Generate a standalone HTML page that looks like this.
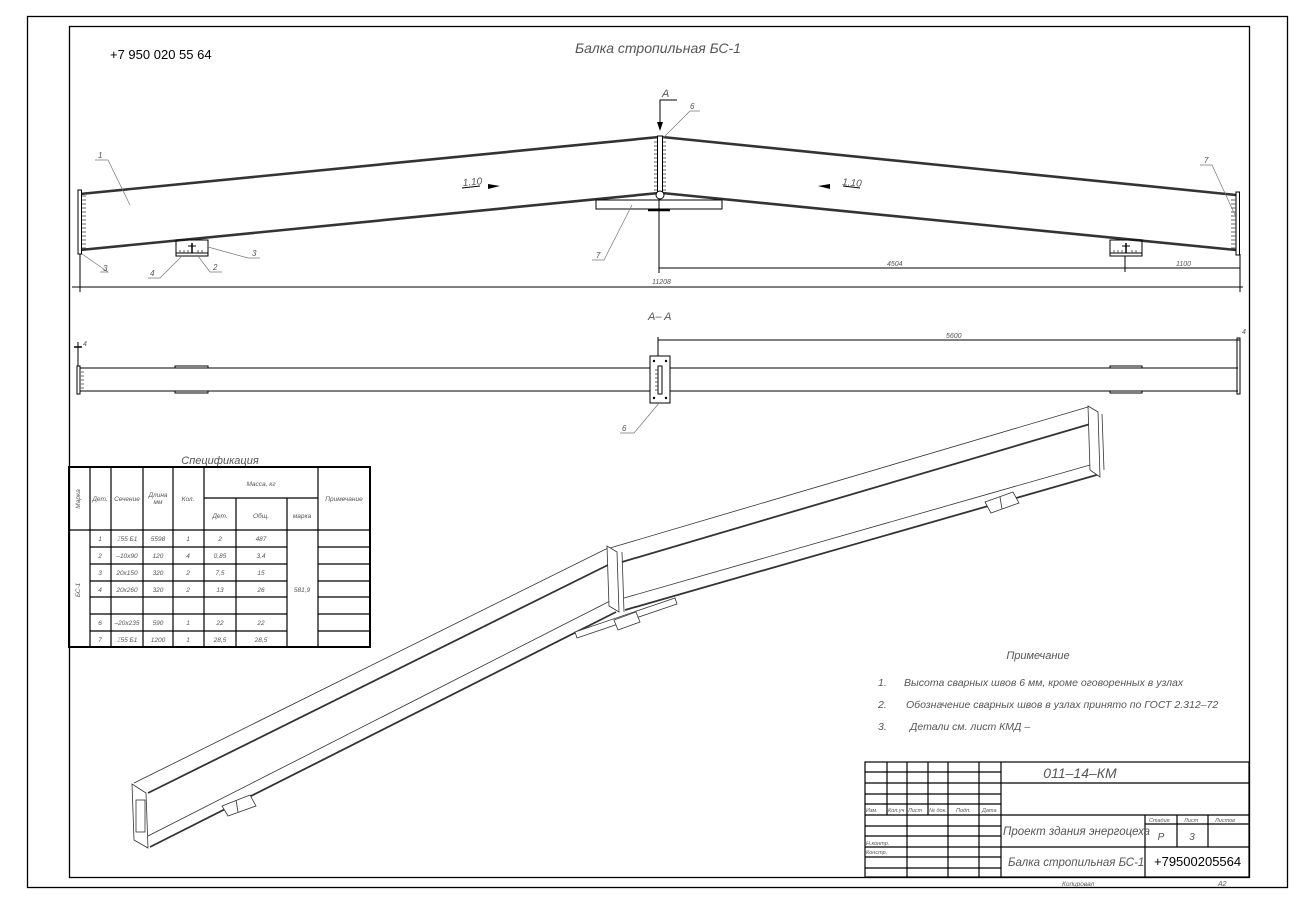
<!DOCTYPE html>
<html><head><meta charset="utf-8"><style>
html,body{margin:0;padding:0;background:#fff;}
svg{display:block;}
text{font-family:"Liberation Sans","Noto Sans CJK SC",sans-serif;font-style:italic;fill:#555;}
.b{font-style:normal;fill:#000;}
</style></head><body>
<svg width="1306" height="914" viewBox="0 0 1306 914" xmlns="http://www.w3.org/2000/svg">
<rect width="1306" height="914" fill="#fff"/>
<!-- frames -->
<rect x="27.5" y="16.5" width="1260" height="871" fill="none" stroke="#000" stroke-width="1.3"/>
<rect x="69.5" y="26.5" width="1180" height="851" fill="none" stroke="#000" stroke-width="1.3"/>

<text x="110" y="59" font-size="13" class="b">+7 950 020 55 64</text>
<text x="658" y="53" font-size="14" text-anchor="middle">Балка стропильная БС-1</text>

<!-- ELEVATION -->
<g stroke="#333" fill="none">
<line x1="80" y1="194" x2="659" y2="137" stroke-width="2.6"/>
<line x1="80" y1="250" x2="659" y2="193" stroke-width="2.6"/>
<line x1="662" y1="137" x2="1236" y2="195" stroke-width="2.6"/>
<line x1="662" y1="193" x2="1236" y2="250" stroke-width="2.6"/>
</g>
<g stroke="#000" fill="none" stroke-width="1">
<rect x="78" y="190" width="3.5" height="64" fill="#fff"/>
<rect x="1236" y="192" width="3.5" height="63" fill="#fff"/>
<rect x="657.5" y="136" width="5" height="60" fill="#fff"/>
<rect x="596" y="200" width="126" height="9"/>
<line x1="648" y1="210" x2="670" y2="210" stroke-width="2.5"/>
<line x1="659" y1="196" x2="659" y2="273"/>
<line x1="659" y1="268" x2="1240" y2="268"/>
<line x1="1240" y1="254" x2="1240" y2="292"/>
<line x1="1125" y1="256" x2="1125" y2="272"/>
<line x1="72" y1="287" x2="1243" y2="287"/>
<line x1="80" y1="254" x2="80" y2="292"/>
<rect x="176" y="240" width="32" height="16"/>
<line x1="176" y1="253" x2="208" y2="253"/>
<rect x="1110" y="240" width="32" height="16"/>
<line x1="1110" y1="253" x2="1142" y2="253"/>
<line x1="192" y1="243" x2="192" y2="253" stroke-width="1.5"/>
<line x1="188" y1="246" x2="196" y2="246"/>
<line x1="1126" y1="243" x2="1126" y2="253" stroke-width="1.5"/>
<line x1="1122" y1="246" x2="1130" y2="246"/>
<!-- A section mark -->
<polyline points="677,100 660,100 660,128"/>
</g>
<polygon points="657,122 663,122 660,131" fill="#000"/>
<!-- weld ticks -->
<g stroke="#333" stroke-width="0.8">
<path d="M82,196h4M82,200h4M82,204h4M82,208h4M82,212h4M82,216h4M82,220h4M82,224h4M82,228h4M82,232h4M82,236h4M82,240h4M82,244h4M82,248h4"/>
<path d="M1231,200h5M1231,204h5M1231,208h5M1231,212h5M1231,216h5M1231,220h5M1231,224h5M1231,228h5M1231,232h5M1231,236h5M1231,240h5M1231,244h5M1231,248h5"/>
<path d="M654,142h3M654,146h3M654,150h3M654,154h3M654,158h3M654,162h3M654,166h3M654,170h3M654,174h3M654,178h3M654,182h3M654,186h3M654,190h3M663,142h3M663,146h3M663,150h3M663,154h3M663,158h3M663,162h3M663,166h3M663,170h3M663,174h3M663,178h3M663,182h3M663,186h3M663,190h3"/>
<path d="M180,250v3M184,250v3M188,250v3M198,250v3M202,250v3M1114,250v3M1118,250v3M1122,250v3M1132,250v3M1136,250v3"/>
</g>
<circle cx="660" cy="195" r="4" fill="#fff" stroke="#000"/>
<!-- arrows 1.10 -->
<g stroke="#000" stroke-width="1">
<line x1="462" y1="188" x2="480" y2="186"/>
<line x1="843" y1="186" x2="860" y2="188"/>
</g>
<polygon points="488,184 500,186 488,189" fill="#000"/>
<polygon points="830,184 818,186 830,189" fill="#000"/>
<text x="463" y="186" font-size="10" transform="rotate(-5 463 186)">1.10</text>
<text x="842" y="185" font-size="10" transform="rotate(5 842 185)">1.10</text>
<!-- leaders -->
<g stroke="#777" stroke-width="0.7" fill="none">
<polyline points="95,160 108,160 130,205"/>
<polyline points="100,272 108,272 82,254"/>
<polyline points="148,278 160,278 182,256"/>
<polyline points="222,272 210,272 198,256"/>
<polyline points="260,258 248,258 208,247"/>
<polyline points="592,260 604,260 632,205"/>
<polyline points="700,111 690,111 663,138"/>
<polyline points="1200,165 1212,165 1235,215"/>
</g>
<g font-size="8">
<text x="98" y="158">1</text><text x="103" y="271">3</text><text x="150" y="276">4</text>
<text x="213" y="270">2</text><text x="252" y="256">3</text><text x="596" y="258">7</text>
<text x="690" y="109">6</text><text x="1204" y="163">7</text>
<text x="887" y="266" font-size="7">4504</text><text x="1176" y="266" font-size="7">1100</text>
<text x="652" y="284" font-size="7">11208</text>
</g>
<text x="662" y="97" font-size="11">A</text>

<!-- SECTION A-A -->
<text x="648" y="320" font-size="11">A– A</text>
<g stroke="#000" stroke-width="1" fill="none">
<line x1="80" y1="368" x2="1238" y2="368"/>
<line x1="80" y1="391" x2="1238" y2="391"/>
<rect x="77" y="366" width="3" height="28"/>
<rect x="1237" y="338" width="3" height="56"/>
<line x1="78" y1="342" x2="78" y2="366"/>
<line x1="74" y1="347" x2="82" y2="347" stroke-width="1.5"/>
<line x1="658" y1="340" x2="1240" y2="340"/>
<line x1="658" y1="337" x2="658" y2="356"/>
<rect x="650" y="356" width="20" height="47" fill="#fff"/>
<rect x="658" y="366" width="4" height="28" fill="#fff"/>
<rect x="175" y="366" width="33" height="2"/><rect x="175" y="391" width="33" height="2"/>
<rect x="1110" y="366" width="32" height="2"/><rect x="1110" y="391" width="32" height="2"/>
</g>
<g fill="#000"><circle cx="654" cy="361" r="1.2"/><circle cx="666" cy="361" r="1.2"/><circle cx="654" cy="398" r="1.2"/><circle cx="666" cy="398" r="1.2"/></g>
<g stroke="#333" stroke-width="0.8"><path d="M81,372h3M81,376h3M81,380h3M81,384h3M81,388h3M655,370h3M655,374h3M655,378h3M655,382h3M655,386h3M655,390h3"/></g>
<polyline points="620,433 634,433 660,402" stroke="#777" stroke-width="0.7" fill="none"/>
<text x="622" y="431" font-size="8">6</text>
<text x="946" y="338" font-size="7">5600</text>
<text x="83" y="346" font-size="7">4</text><text x="1242" y="334" font-size="7">4</text>

<!-- 3D beam -->
<g stroke="#333" fill="none" stroke-width="0.8">
<line x1="134" y1="783" x2="608" y2="548"/>
<line x1="148" y1="793" x2="614" y2="562" stroke-width="1.8"/>
<line x1="148" y1="836" x2="612" y2="600"/>
<line x1="150" y1="847" x2="616" y2="612" stroke-width="1.8"/>
<line x1="610" y1="548" x2="1088" y2="407"/>
<line x1="622" y1="562" x2="1097" y2="422" stroke-width="1.8"/>
<line x1="624" y1="598" x2="1097" y2="463"/>
<line x1="625" y1="610" x2="1100" y2="474" stroke-width="1.8"/>
<polygon points="132,784 146,793 148,848 134,840" fill="#fff"/>
<rect x="136" y="800" width="9" height="32"/>
<polygon points="607,546 617,552 619,612 609,606" fill="#fff"/>
<line x1="622" y1="552" x2="624" y2="612"/>
<polygon points="1088,406 1098,412 1100,477 1090,470" fill="#fff"/>
<line x1="1102" y1="414" x2="1104" y2="470"/>
<polygon points="575,632 675,598 677,604 577,638" fill="#fff"/>
<polygon points="614,620 636,612 640,622 618,630" fill="#fff"/>
<polygon points="222,806 250,795 256,806 228,816" fill="#fff"/>
<polygon points="985,502 1013,492 1019,503 991,513" fill="#fff"/>
<line x1="236" y1="800" x2="238" y2="812"/>
<line x1="1000" y1="497" x2="1002" y2="509"/>
</g>

<!-- SPECIFICATION -->
<text x="220" y="464" font-size="11" text-anchor="middle">Спецификация</text>
<g stroke="#000" fill="none">
<rect x="69" y="467" width="301" height="180" stroke-width="2"/>
<g stroke-width="1.2">
<path d="M90,467V647M111,467V647M143,467V647M173,467V647M204,467V647M236,498V647M287,498V647M318,467V647"/>
<path d="M204,498H318M69,530H370"/>
<path d="M90,547H287M90,564H287M90,581H287M90,597H287M90,614H287M90,631H287"/>
<path d="M318,547H370M318,564H370M318,581H370M318,597H370M318,614H370M318,631H370"/>
</g>
</g>
<g font-size="6.5" text-anchor="middle">
<text x="80" y="499" transform="rotate(-90 80 499)">Марка</text>
<text x="100" y="501">Дет.</text><text x="127" y="501">Сечение</text>
<text x="158" y="497">Длина</text><text x="158" y="504">мм</text>
<text x="188" y="501">Кол.</text><text x="261" y="486">Масса, кг</text>
<text x="220" y="518">Дет.</text><text x="261" y="518">Общ.</text><text x="302" y="518">марка</text>
<text x="344" y="501">Примечание</text>
<text x="80" y="590" transform="rotate(-90 80 590)">БС-1</text>
<text x="302" y="592">581,9</text>
</g>
<g font-size="6.5" text-anchor="middle">
<text x="100" y="541">1</text><text x="127" y="541">⌶55 Б1</text><text x="158" y="541">5598</text><text x="188" y="541">1</text><text x="220" y="541">2</text><text x="261" y="541">487</text>
<text x="100" y="558">2</text><text x="127" y="558">–10x90</text><text x="158" y="558">120</text><text x="188" y="558">4</text><text x="220" y="558">0,85</text><text x="261" y="558">3,4</text>
<text x="100" y="575">3</text><text x="127" y="575">20x150</text><text x="158" y="575">320</text><text x="188" y="575">2</text><text x="220" y="575">7,5</text><text x="261" y="575">15</text>
<text x="100" y="592">4</text><text x="127" y="592">20x260</text><text x="158" y="592">320</text><text x="188" y="592">2</text><text x="220" y="592">13</text><text x="261" y="592">26</text>
<text x="100" y="625">6</text><text x="127" y="625">–20x235</text><text x="158" y="625">590</text><text x="188" y="625">1</text><text x="220" y="625">22</text><text x="261" y="625">22</text>
<text x="100" y="642">7</text><text x="127" y="642">⌶55 Б1</text><text x="158" y="642">1200</text><text x="188" y="642">1</text><text x="220" y="642">28,5</text><text x="261" y="642">28,5</text>
</g>

<!-- NOTES -->
<text x="1038" y="659" font-size="11" text-anchor="middle">Примечание</text>
<g font-size="10.5">
<text x="878" y="686">1.</text><text x="904" y="686">Высота сварных швов 6 мм, кроме оговоренных в узлах</text>
<text x="878" y="708">2.</text><text x="906" y="708">Обозначение сварных швов в узлах принято по ГОСТ 2.312–72</text>
<text x="878" y="730">3.</text><text x="910" y="730">Детали см. лист КМД –</text>
</g>

<!-- TITLE BLOCK -->
<g stroke="#000" fill="none" stroke-width="1.2">
<rect x="865" y="762" width="384" height="115"/>
<path d="M887,762V815M928,762V815M907,762V877M948,762V877M979,762V877M1001,762V877"/>
<path d="M865,772H1001M865,783H1249M865,794H1001M865,804H1001M865,815H1249M865,826H1001M865,836H1001M865,847H1249M865,857H1001M865,868H1001"/>
<path d="M1145,815V847M1177,815V847M1208,815V847M1145,824H1249M1145,847V877"/>
</g>
<g font-size="5.5">
<text x="866" y="812">Изм.</text><text x="888" y="812">Кол.уч</text><text x="908" y="812">Лист</text><text x="929" y="812">№ док.</text><text x="956" y="812">Подп.</text><text x="982" y="812">Дата</text>
<text x="866" y="845">Н.контр.</text><text x="866" y="854">Констр.</text>
<text x="1149" y="822">Стадия</text><text x="1184" y="822">Лист</text><text x="1215" y="822">Листов</text>
</g>
<text x="1080" y="778" font-size="14" text-anchor="middle">011–14–КМ</text>
<text x="1003" y="835" font-size="11.5">Проект здания энергоцеха</text>
<text x="1008" y="866" font-size="11.5">Балка стропильная БС-1</text>
<text x="1161" y="840" font-size="10" text-anchor="middle">Р</text>
<text x="1192" y="840" font-size="10" text-anchor="middle">3</text>
<text x="1154" y="866" font-size="13" class="b">+79500205564</text>
<text x="1062" y="886" font-size="6.5">Копировал</text>
<text x="1218" y="886" font-size="7">А2</text>
</svg>
</body></html>
